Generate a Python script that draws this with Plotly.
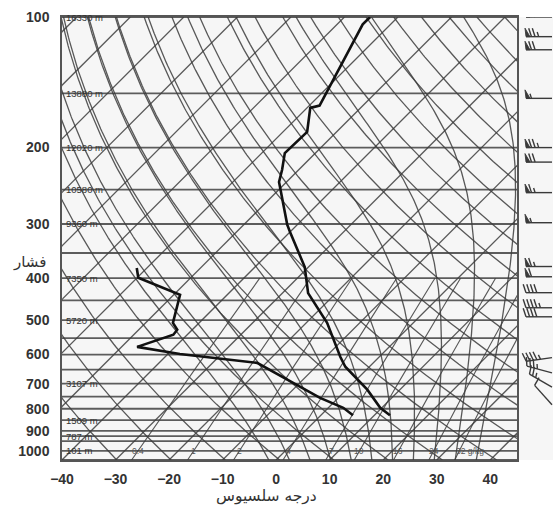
import numpy as np
import plotly.graph_objects as go

# ---------------- data ----------------
# temperature sounding (hPa, deg C)
temp_p = [100, 104, 160, 162, 184, 206, 225, 240, 301, 313, 377, 433, 507, 607, 640, 723, 796, 828]
temp_t = [-65.2, -65.2, -58.1, -59.4, -55.5, -55.7, -53.1, -51.4, -41.9, -40.0, -30.7, -25.2,
          -16.1, -7.3, -4.5, 3.9, 9.7, 12.9]
# dew point sounding (hPa, deg C)
dew_p = [379, 399, 437, 466, 507, 526, 540, 576, 598, 627, 755, 796, 828]
dew_t = [-61.9, -59.8, -48.8, -47.1, -44.9, -42.8, -42.6, -47.1, -37.8, -21.7, -3.4, 2.8, 6.0]

# geopotential heights at standard levels
height_p = [100, 150, 200, 250, 300, 400, 500, 700, 850, 925, 1000]
height_lbl = ["16330 m", "13880 m", "12020 m", "10580 m", "9360 m", "7350 m", "5720 m",
              "3107 m", "1509 m", "787 m", "101 m"]

# winds (hPa, direction deg, speed kt)
wind_p = [100, 111, 119, 154, 200, 216, 254, 298, 376, 397, 432, 468, 491, 610, 661, 713, 783]
wind_dir = [270, 270, 270, 270, 270, 270, 270, 270, 270, 270, 270, 270, 270, 262, 285, 300, 318]
wind_spd = [70, 75, 70, 55, 75, 70, 65, 55, 65, 60, 40, 45, 40, 45, 35, 25, 10]

# diagram background families
isotherms = list(range(-130, 50, 10))              # deg C
dry_adiabats = list(range(230, 470, 10))           # potential temperature, K
moist_adiabats = [-4, 0, 4, 8, 12, 16, 20, 24, 28, 32, 36]   # deg C at 1000 hPa
mix_ratios = [0.4, 1, 2, 4, 7, 10, 16, 24, 32]     # g/kg
mix_labels = ["0.4", "1", "2", "4", "7", "10", "16", "24", "32 g/kg"]
isobars = list(range(100, 1051, 50)) + [925]
p_ticks = [100, 200, 300, 400, 500, 600, 700, 800, 900, 1000]
t_ticks = [-40, -30, -20, -10, 0, 10, 20, 30, 40]

# ---------------- layout geometry ----------------
W, H = 553, 505
ML, MR, MT, MB = 62, 0, 17, 45
PW, PH = W - ML - MR, H - MT - MB
X_MIN, X_MAX = -40, 45
P_BOT, P_TOP = 1050.0, 100.0
main_dom_end = (517 - ML) / PW

px_per_deg = (main_dom_end * PW) / (X_MAX - X_MIN)
px_per_ln = PH / np.log(P_BOT / P_TOP)
SKEW = px_per_ln / px_per_deg     # 45-degree isotherms


def skx(t, p):
    return np.asarray(t, float) + SKEW * np.log(P_BOT / np.asarray(p, float))


LINE = "rgba(60,60,60,0.85)"
LW = 1.3
fig = go.Figure()

p_full = np.geomspace(P_BOT, P_TOP, 200)

# isobars
for pb in isobars:
    fig.add_trace(go.Scatter(x=[X_MIN, X_MAX], y=[pb, pb], mode="lines",
                             line=dict(color="rgba(75,75,75,0.9)", width=1.8),
                             hoverinfo="skip", showlegend=False))
# isotherms
for t in isotherms:
    pp = np.array([P_BOT, P_TOP])
    fig.add_trace(go.Scatter(x=skx([t, t], pp), y=pp, mode="lines",
                             line=dict(color=LINE, width=LW), hoverinfo="skip", showlegend=False))
# dry adiabats
for th in dry_adiabats:
    tt = th * (p_full / 1000.0) ** 0.2857 - 273.15
    fig.add_trace(go.Scatter(x=skx(tt, p_full), y=p_full, mode="lines",
                             line=dict(color=LINE, width=LW), hoverinfo="skip", showlegend=False))

# moist adiabats (pseudo-adiabatic)
Rd, Cp, Lv, EPS = 287.04, 1005.7, 2.501e6, 0.622


def rs(tk, p):
    es = 6.112 * np.exp(17.67 * (tk - 273.15) / (tk - 29.65))
    return EPS * es / (p - es)


def dtdp(tk, p):
    r = rs(tk, p)
    return (Rd * tk + Lv * r) / (p * (Cp + Lv * Lv * r * EPS / (Rd * tk * tk)))


def integrate(t0c, p_arr):
    tk = t0c + 273.15
    out = [tk]
    for i in range(1, len(p_arr)):
        p0, p1 = p_arr[i - 1], p_arr[i]
        k1 = dtdp(tk, p0)
        k2 = dtdp(tk + k1 * (p1 - p0), p1)
        tk = tk + 0.5 * (k1 + k2) * (p1 - p0)
        out.append(tk)
    return np.array(out) - 273.15


p_up = np.linspace(1000, P_TOP, 400)
p_dn = np.linspace(1000, P_BOT, 20)
for t0 in moist_adiabats:
    tu = integrate(t0, p_up)
    td = integrate(t0, p_dn)
    pp = np.concatenate([p_dn[::-1], p_up[1:]])
    tt = np.concatenate([td[::-1], tu[1:]])
    fig.add_trace(go.Scatter(x=skx(tt, pp), y=pp, mode="lines",
                             line=dict(color=LINE, width=LW), hoverinfo="skip", showlegend=False))

# mixing ratio lines
p_mix = np.linspace(P_BOT, 400, 60)
for w, lbl in zip(mix_ratios, mix_labels):
    e = (w / 1000.0) * p_mix / (EPS + w / 1000.0)
    le = np.log(e / 6.112)
    tdw = 243.5 * le / (17.67 - le)
    fig.add_trace(go.Scatter(x=skx(tdw, p_mix), y=p_mix, mode="lines",
                             line=dict(color=LINE, width=1.1), hoverinfo="skip", showlegend=False))
    e1 = (w / 1000.0) * 1000 / (EPS + w / 1000.0)
    l1 = np.log(e1 / 6.112)
    fig.add_annotation(x=float(skx(243.5 * l1 / (17.67 - l1), 1000)), y=np.log10(1000), xref="x", yref="y",
                       text=lbl, showarrow=False, xanchor="left" if w == 32 else "center",
                       xshift=-5 if w == 32 else 0,
                       yanchor="middle", font=dict(size=8.5, color="#555", family="Liberation Sans"))

# sounding curves
fig.add_trace(go.Scatter(x=skx(temp_t, temp_p), y=temp_p, mode="lines",
                         line=dict(color="#111", width=2.6), showlegend=False))
fig.add_trace(go.Scatter(x=skx(dew_t, dew_p), y=dew_p, mode="lines",
                         line=dict(color="#111", width=2.6), showlegend=False))

# height labels
for pl, lb in zip(height_p, height_lbl):
    fig.add_annotation(x=X_MIN + 0.3, y=np.log10(pl), xref="x", yref="y", text=lb, showarrow=False,
                       xanchor="left", yanchor="middle",
                       font=dict(size=9.5, color="#333", family="Liberation Sans"))

# ---------------- wind barbs (own axis in pixel units) ----------------
BW = PW * (1 - main_dom_end)
STATION_X = BW - 1
STAFF, FL, SP = 26, 8.5, 3.6


def p_to_px(p):
    return np.log(P_BOT / p) * px_per_ln   # from bottom


lx, ly, fx, fy = [], [], [], []
for p, d, s in zip(wind_p, wind_dir, wind_spd):
    yb = PH - p_to_px(p)           # pixels from top
    r = np.deg2rad(d)
    ux, uy = np.sin(r), np.cos(r)
    qx, qy = uy, -ux               # clockwise perpendicular (feather side)

    def pt(a, b):
        return STATION_X + a * ux + b * qx, yb - (a * uy + b * qy)

    x0, y0 = pt(0, 0)
    x1, y1 = pt(STAFF, 0)
    lx += [x0, x1, None]
    ly += [y0, y1, None]
    n50, rem = divmod(s, 50)
    n10, rem = divmod(rem, 10)
    n5 = 1 if rem >= 5 else 0
    pos = STAFF
    for _ in range(n50):
        a = pt(pos, 0); b = pt(pos + 1, FL); c = pt(pos - 4, 0)
        fx += [a[0], b[0], c[0], a[0], None]
        fy += [a[1], b[1], c[1], a[1], None]
        pos -= 5.5
    for _ in range(n10):
        a = pt(pos, 0); b = pt(pos + 2.8, FL)
        lx += [a[0], b[0], None]; ly += [a[1], b[1], None]
        pos -= SP
    for _ in range(n5):
        if n50 == 0 and n10 == 0:
            pos -= SP
        a = pt(pos, 0); b = pt(pos + 1.5, FL * 0.55)
        lx += [a[0], b[0], None]; ly += [a[1], b[1], None]

fig.add_trace(go.Scatter(x=lx, y=ly, xaxis="x2", yaxis="y2", mode="lines",
                         line=dict(color="#3a3a3a", width=1.4), hoverinfo="skip", showlegend=False))
fig.add_trace(go.Scatter(x=fx, y=fy, xaxis="x2", yaxis="y2", mode="lines", fill="toself",
                         fillcolor="#3a3a3a", line=dict(color="#3a3a3a", width=0.9), hoverinfo="skip",
                         showlegend=False))

# ---------------- titles ----------------
fig.add_annotation(x=(29 - ML) / PW, y=1 - (262 - MT) / PH, xref="paper", yref="paper", text="فشار",
                   showarrow=False, xanchor="center", yanchor="middle",
                   font=dict(size=15, color="#333", family="DejaVu Sans"))
fig.add_annotation(x=(266 - ML) / PW, y=1 - (496 - MT) / PH, xref="paper", yref="paper",
                   text="درجه سلسیوس", showarrow=False, xanchor="center", yanchor="middle",
                   font=dict(size=15.5, color="#333", family="DejaVu Sans"))

fig.update_layout(
    width=W, height=H, margin=dict(l=ML, r=MR, t=MT, b=MB),
    paper_bgcolor="white", plot_bgcolor="#f6f6f6", showlegend=False,
    xaxis=dict(domain=[0, main_dom_end], range=[X_MIN, X_MAX], tickvals=t_ticks,
               showgrid=False, zeroline=False, showline=True, mirror=True,
               linecolor="#555", linewidth=1.5, ticks="", ticklen=0, ticklabelstandoff=5,
               tickfont=dict(size=14, color="#333", family="Liberation Sans", weight="bold")),
    yaxis=dict(type="log", range=[np.log10(P_BOT), np.log10(P_TOP)], tickvals=p_ticks,
               ticktext=[str(v) for v in p_ticks], ticklabelstandoff=8,
               showgrid=False, zeroline=False, showline=True, mirror=True,
               linecolor="#555", linewidth=1.5, ticks="",
               tickfont=dict(size=14, color="#333", family="Liberation Sans", weight="bold")),
    xaxis2=dict(domain=[main_dom_end, 1], range=[0, BW], visible=False, anchor="y2"),
    yaxis2=dict(domain=[0, 1], range=[PH, 0], visible=False, anchor="x2"),
)

fig.write_html("out.html", config={"displayModeBar": False},
               post_script="document.body.style.margin='0';")
